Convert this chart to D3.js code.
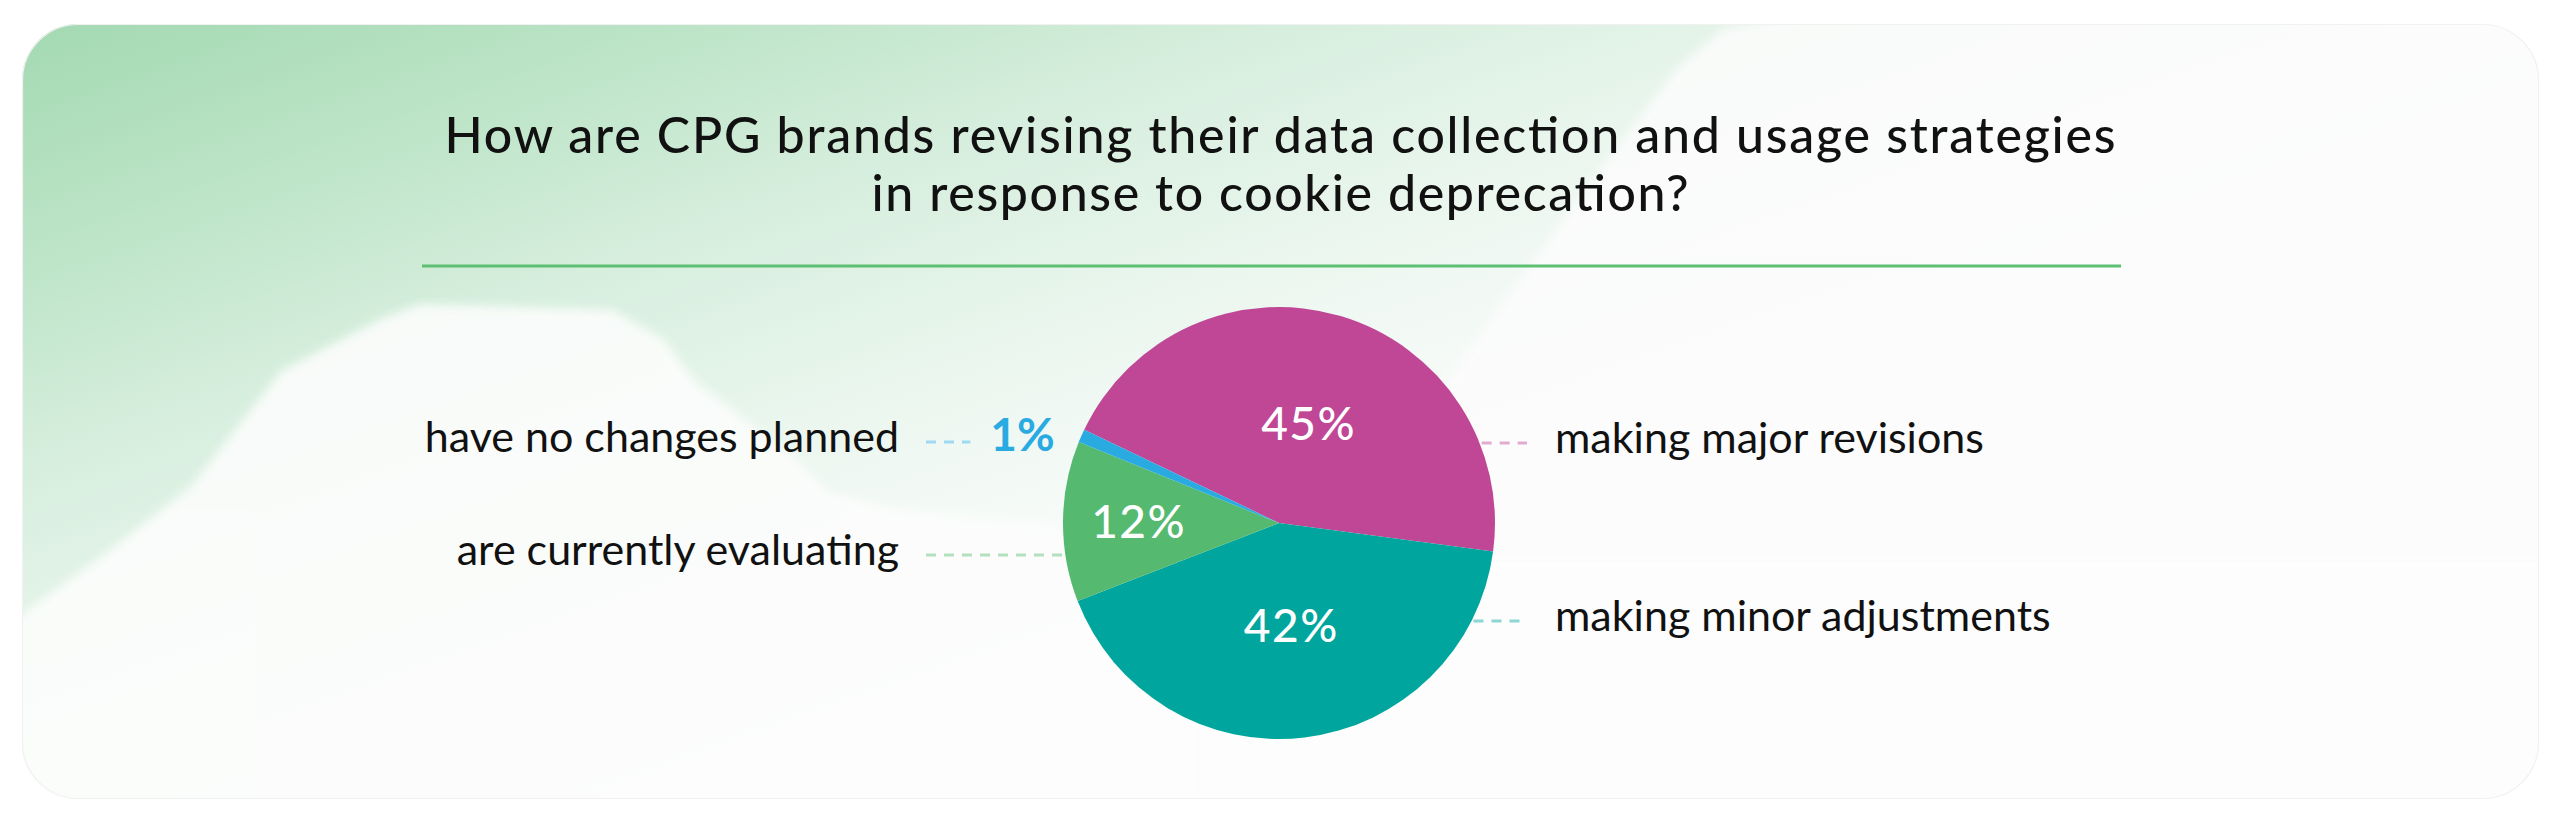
<!DOCTYPE html>
<html>
<head>
<meta charset="utf-8">
<script src="https://cdn.jsdelivr.net/npm/d3@7"></script>
<style>
  html, body { margin: 0; padding: 0; background: #ffffff; }
  svg { display: block; }
</style>
</head>
<body>
<svg id="chart" width="2560" height="830"></svg>
<script>
// ---------- data ----------
const categories = [
  "making major revisions",
  "making minor adjustments",
  "are currently evaluating",
  "have no changes planned"
];
const values = [45, 42, 12, 1];
const valueLabels = ["45%", "42%", "12%", "1%"];
const palette = ["#bf4796", "#00a69d", "#55b970", "#29abe2"];
const titleLines = [
  "How are CPG brands revising their data collection and usage strategies",
  "in response to cookie deprecation?"
];

// ---------- layout ----------
const W = 2560, H = 830;
const card = { x: 22, y: 24, w: 2517, h: 775, r: 56 };
const cx = 1279, cy = 523, R = 216;
const startDeg = -64.4;
const FONT = "Lato, 'Noto Sans', sans-serif";

const svg = d3.select("#chart");
const defs = svg.append("defs");

// background gradient
const grad = defs.append("linearGradient")
  .attr("id", "bgGrad").attr("gradientUnits", "userSpaceOnUse")
  .attr("x1", 22).attr("y1", 24).attr("x2", 330).attr("y2", 900);
[[0, "#a3d9b2"], [0.22, "#bae3c5"], [0.45, "#d6eedd"], [0.68, "#eaf6ee"], [0.85, "#f5faf7"], [1, "#fcfdfc"]]
  .forEach(s => grad.append("stop").attr("offset", s[0]).attr("stop-color", s[1]));

defs.append("clipPath").attr("id", "cardClip")
  .append("rect").attr("x", card.x).attr("y", card.y).attr("width", card.w).attr("height", card.h).attr("rx", card.r);

const blur = defs.append("filter").attr("id", "soft").attr("x", "-10%").attr("y", "-10%").attr("width", "120%").attr("height", "120%");
blur.append("feGaussianBlur").attr("stdDeviation", 5);

svg.append("rect").attr("width", W).attr("height", H).attr("fill", "#ffffff");

const bg = svg.append("g").attr("clip-path", "url(#cardClip)");
bg.append("rect").attr("x", card.x).attr("y", card.y).attr("width", card.w).attr("height", card.h).attr("fill", "#fcfcfc");
bg.append("rect").attr("x", card.x).attr("y", card.y).attr("width", card.w).attr("height", card.h).attr("fill", "url(#bgGrad)");

// light "mountain" silhouette
const mountain = [[0,630],[22,614],[102,556],[191,487],[281,371],[383,318],[421,304],[612,310],[663,339],[695,381],[791,455],[829,492],[893,508],[1084,529],[1200,560],[1200,830],[0,830]];
bg.append("path")
  .attr("d", d3.line()(mountain) + "Z")
  .attr("fill", "#fcfdfc").attr("opacity", 0.9).attr("filter", "url(#soft)");

// faint upper-right boundary softening
const rightFade = [[1880,0],[1723,29],[1676,69],[1568,212],[1500,307],[1420,420],[1300,560],[2560,560],[2560,0]];
bg.append("path")
  .attr("d", d3.line()(rightFade) + "Z")
  .attr("fill", "#fcfcfc").attr("opacity", 0.85).attr("filter", "url(#soft)");

svg.append("rect").attr("x", card.x + 0.5).attr("y", card.y + 0.5).attr("width", card.w - 1).attr("height", card.h - 1)
  .attr("rx", card.r).attr("fill", "none").attr("stroke", "#f1f1f1").attr("stroke-width", 1.2);

// ---------- title ----------
const titleWidths = [1671, 817];
titleLines.forEach((t, i) => {
  svg.append("text")
    .attr("x", 1280).attr("y", 153 + i * 58)
    .attr("text-anchor", "middle")
    .attr("font-family", FONT).attr("font-size", 50).attr("font-weight", 500).attr("fill", "#111111")
    .attr("textLength", titleWidths[i]).attr("lengthAdjust", "spacing")
    .text(t);
});
svg.append("line").attr("x1", 422).attr("x2", 2121).attr("y1", 266).attr("y2", 266)
  .attr("stroke", "#5cbf72").attr("stroke-width", 3);

// ---------- pie ----------
const data = categories.map((c, i) => ({ category: c, value: values[i], label: valueLabels[i] }));
const color = d3.scaleOrdinal().domain(categories).range(palette);
const a0 = startDeg * Math.PI / 180;
const pie = d3.pie().sort(null).value(d => d.value).startAngle(a0).endAngle(a0 + 2 * Math.PI);
const arcs = pie(data);
const arc = d3.arc().innerRadius(0).outerRadius(R);

const g = svg.append("g").attr("transform", `translate(${cx},${cy})`);
g.selectAll("path.slice").data(arcs).join("path")
  .attr("class", "slice")
  .attr("d", arc)
  .attr("fill", d => color(d.data.category));

// inner value labels
const total = d3.sum(values);
const labelRadius = d => (d.data.value / total >= 0.3 ? R * 0.48 : R * 0.65);
const labelPos = d => d3.arc().innerRadius(labelRadius(d)).outerRadius(labelRadius(d)).centroid(d);
g.selectAll("text.val").data(arcs.filter(d => d.data.value / total >= 0.05)).join("text")
  .attr("class", "val")
  .attr("x", d => labelPos(d)[0])
  .attr("y", d => labelPos(d)[1] + 16)
  .attr("text-anchor", "middle")
  .attr("font-family", FONT).attr("font-size", 46).attr("font-weight", 500)
  .attr("letter-spacing", 1.5)
  .attr("fill", "#ffffff")
  .text(d => d.data.label);

// ---------- side labels with dashed leaders ----------
const rows = { right: [453, 631], left: [452, 565] };
const leftTextX = 899, rightTextX = 1555;
const edgeX = (y, side) => {
  const dy = y - cy;
  const dx = Math.sqrt(Math.max(0, R * R - dy * dy));
  return side === "right" ? cx + dx : cx - dx;
};
const lighten = c => d3.interpolateRgb(c, "#ffffff")(0.55);

const sideGroups = { right: [], left: [] };
arcs.forEach(d => {
  const mid = (d.startAngle + d.endAngle) / 2;
  const norm = ((mid % (2 * Math.PI)) + 2 * Math.PI) % (2 * Math.PI);
  sideGroups[norm < Math.PI ? "right" : "left"].push(d);
});
sideGroups.left.sort((a, b) => b.startAngle - a.startAngle);

["right", "left"].forEach(side => {
  sideGroups[side].forEach((d, i) => {
    const base = rows[side][i];
    const ly = base - 10;
    const col = color(d.data.category);
    const small = d.data.value / total < 0.05;
    svg.append("text")
      .attr("x", side === "right" ? rightTextX : leftTextX)
      .attr("y", base)
      .attr("text-anchor", side === "right" ? "start" : "end")
      .attr("font-family", FONT).attr("font-size", 43).attr("font-weight", 400)
      .attr("fill", "#111111")
      .text(d.data.category);
    let xStart, xEnd;
    if (side === "right") {
      xStart = edgeX(ly, "right") + 2;
      xEnd = rightTextX - 28;
    } else {
      xStart = leftTextX + 27;
      xEnd = edgeX(ly, "left") - 2;
      if (small) {
        const pctEnd = edgeX(ly, "left") - 24;
        const pct = svg.append("text")
          .attr("x", pctEnd).attr("y", base - 1)
          .attr("text-anchor", "end")
          .attr("font-family", FONT).attr("font-size", 46).attr("font-weight", 700)
          .attr("fill", col)
          .text(d.data.label);
        xEnd = pctEnd - pct.node().getComputedTextLength() - 20;
      }
    }
    svg.append("line")
      .attr("x1", xStart).attr("x2", xEnd).attr("y1", ly).attr("y2", ly)
      .attr("stroke", lighten(col)).attr("stroke-width", 3)
      .attr("stroke-dasharray", "10,8");
  });
});
</script>
</body>
</html>
